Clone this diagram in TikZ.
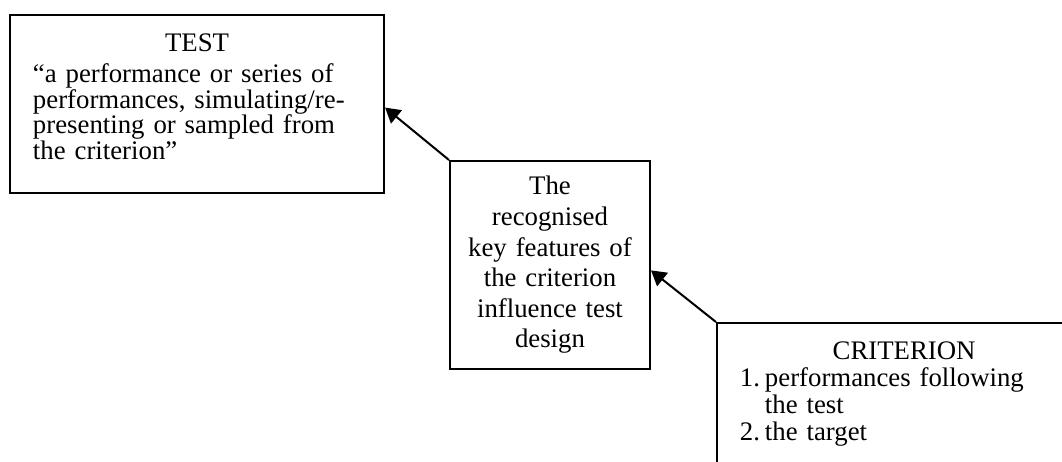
\documentclass[tikz,border=0pt]{standalone}
\usepackage{fontspec}
\setmainfont{Liberation Serif}
\usetikzlibrary{arrows.meta}
\begin{document}
\begin{tikzpicture}[x=0.448pt, y=-0.448pt,
        box/.style={draw, line width=0.9pt, anchor=north west, inner xsep=10.3pt, inner ysep=8.5pt,
            text width=147pt, align=left, font=\fontsize{12pt}{11.4pt}\selectfont},
        link/.style={line width=0.9pt, -{Triangle[length=6.6pt, width=7.6pt]}}]
    \useasboundingbox (0,0) rectangle (1062,461);
    \clip (0,0) rectangle (1062,461);
    \node[box] (test) at (9,14) {\makebox[\linewidth]{TEST}\\[2.5pt]
        ``a performance or series of\\
        performances, simulating/re-\\
        presenting or sampled from\\
        the criterion''\rule[-6.5pt]{0pt}{6.5pt}};
    \node[box, align=center, text width=81.6pt, inner xsep=4pt, inner ysep=0pt, minimum height=93.2pt,
        font=\fontsize{12pt}{13.7pt}\selectfont] (key) at (449,160)
        {The\\ recognised\\ key features of\\ the criterion\\ influence test\\ design};
    \node[box, font=\fontsize{12pt}{12.1pt}\selectfont] (crit) at (716,322) {\makebox[\linewidth]{CRITERION}\\
        \makebox[11.2pt][l]{1.}performances following\\
        \hspace*{11.2pt}the test\\
        \makebox[11.2pt][l]{2.}the target\rule[-30pt]{0pt}{30pt}};
    \draw[link] (key.north west) -- ([yshift=-1.7pt]test.east);
    \draw[link] (crit.north west) -- ([yshift=-2.4pt]key.east);
\end{tikzpicture}
\end{document}
